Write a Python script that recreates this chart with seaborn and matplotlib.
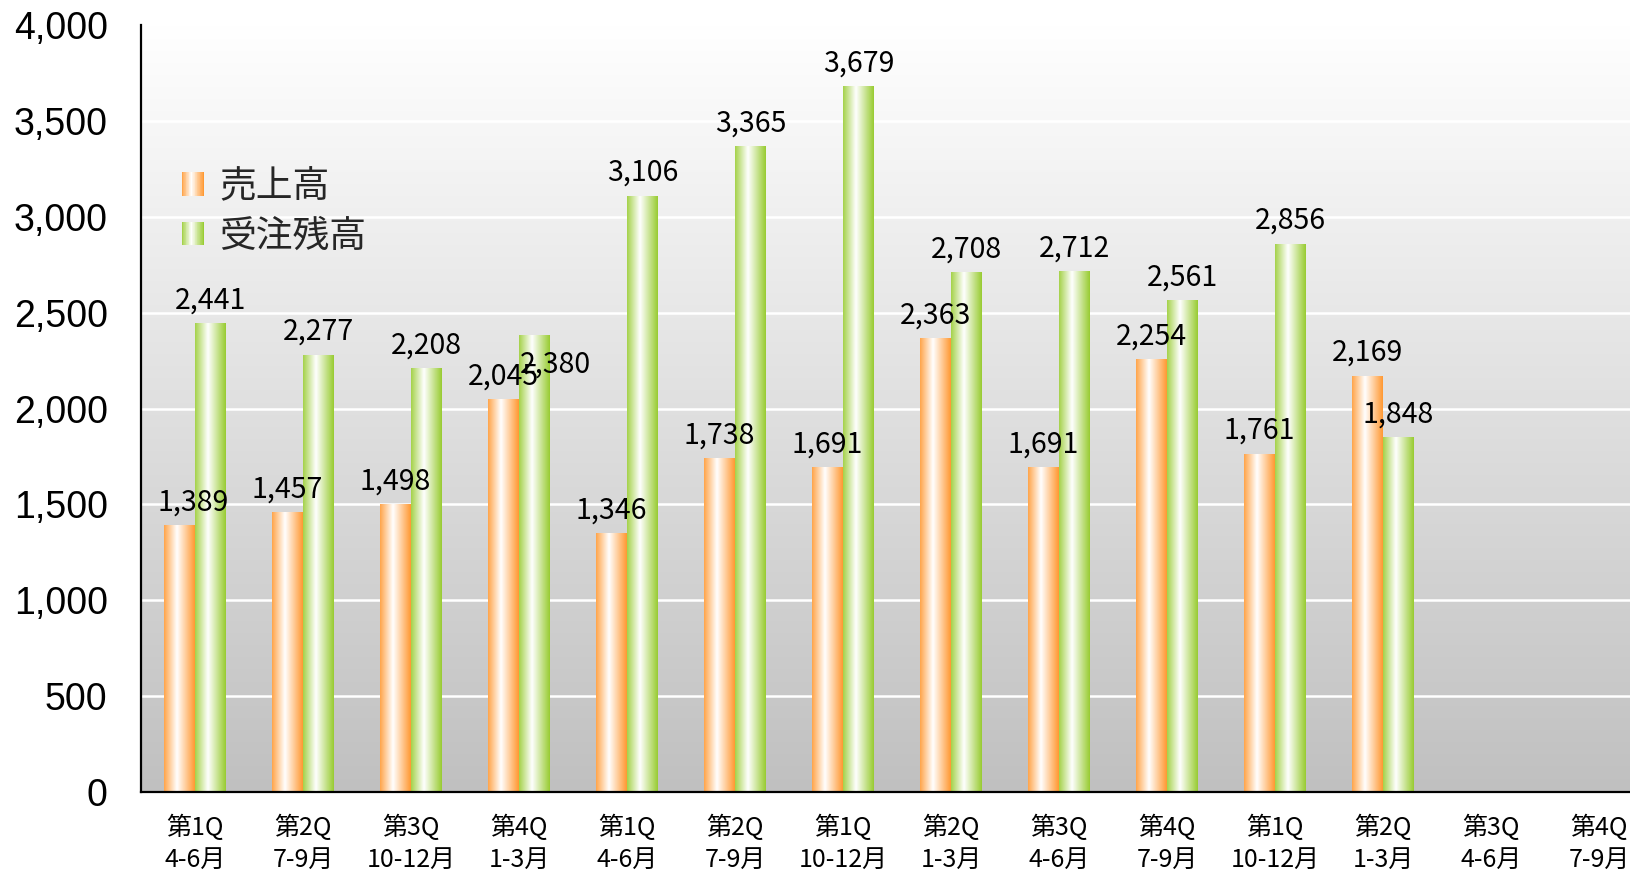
import numpy as np
import pandas as pd
import matplotlib
matplotlib.use("Agg")
import matplotlib.pyplot as plt
import seaborn as sns
from matplotlib.colors import to_rgb
from matplotlib.legend_handler import HandlerPatch
from matplotlib.patches import Rectangle, Patch

# ---------------- data ----------------
quarters = ["第1Q", "第2Q", "第3Q", "第4Q", "第1Q", "第2Q", "第1Q",
            "第2Q", "第3Q", "第4Q", "第1Q", "第2Q", "第3Q", "第4Q"]
months = ["4-6月", "7-9月", "10-12月", "1-3月", "4-6月", "7-9月", "10-12月",
          "1-3月", "4-6月", "7-9月", "10-12月", "1-3月", "4-6月", "7-9月"]
sales = [1389, 1457, 1498, 2045, 1346, 1738, 1691, 2363, 1691, 2254, 1761, 2169]
backlog = [2441, 2277, 2208, 2380, 3106, 3365, 3679, 2708, 2712, 2561, 2856, 1848]
series_names = ["売上高", "受注残高"]
y_ticks = [0, 500, 1000, 1500, 2000, 2500, 3000, 3500, 4000]
y_tick_labels = ["0", "500", "1,000", "1,500", "2,000", "2,500", "3,000", "3,500", "4,000"]

ORANGE = "#FF9933"
GREEN = "#99CC33"
colors = {series_names[0]: ORANGE, series_names[1]: GREEN}

# label nudges (series index, bar index) -> (dx, dy) in points
label_nudges = {(0, 0): (10, 0), (1, 3): (15, -38)}

rows = []
for i, v in enumerate(sales):
    rows.append({"period": i, "series": series_names[0], "value": v})
for i, v in enumerate(backlog):
    rows.append({"period": i, "series": series_names[1], "value": v})
df = pd.DataFrame(rows)

sns.set_style("white")
plt.rcParams["font.family"] = ["Noto Sans CJK JP", "DejaVu Sans"]

W, H = 1630, 874
fig = plt.figure(figsize=(W / 100, H / 100), dpi=100)
fig.patch.set_facecolor("white")
ax = fig.add_axes([141 / W, 82 / H, 1512 / W, 767 / H])
ax.set_facecolor("none")

n_cat = len(quarters)
sns.barplot(data=df, x="period", y="value", hue="series",
            order=list(range(n_cat)), hue_order=series_names,
            palette=colors, width=2 / 3.5, gap=0, errorbar=None,
            legend=False, saturation=1, ax=ax)


def grad_colors(color, n):
    c = np.array(to_rgb(color))
    w = np.ones(3)
    left = c * 0.88 + w * 0.12
    t = np.linspace(0, 1, n)
    out = []
    for tt in t:
        if tt < 0.42:
            f = tt / 0.42
            out.append(left * (1 - f) + w * f)
        else:
            f = (tt - 0.42) / 0.58
            out.append(w * (1 - f) + c * f)
    return np.array(out)


# gradient fills of bars
for cont, name in zip(ax.containers, series_names):
    g = grad_colors(colors[name], 64)[np.newaxis, :, :]
    for p in cont:
        x0, y0, w, h = p.get_x(), p.get_y(), p.get_width(), p.get_height()
        if not np.isfinite(h):
            continue
        ax.imshow(g, extent=[x0, x0 + w, y0, y0 + h], aspect="auto",
                  interpolation="bilinear", zorder=2)
        p.set_facecolor("none")
        p.set_edgecolor("none")

# background gradient
bg = np.linspace(1.0, 0.753, 256)
bg_img = np.stack([bg, bg, bg], axis=-1)[:, np.newaxis, :]
ax.imshow(bg_img, extent=[0, 1, 0, 1], transform=ax.transAxes,
          aspect="auto", zorder=0, interpolation="bilinear")

# data labels
for si, cont in enumerate(ax.containers):
    labels = [f"{p.get_height():,.0f}" for p in cont]
    texts = ax.bar_label(cont, labels=labels, padding=6, fontsize=20.5,
                         fontfamily="Noto Sans CJK JP", zorder=6, color="black")
    for bi, t in enumerate(texts):
        if (si, bi) in label_nudges:
            dx, dy = label_nudges[(si, bi)]
            ox, oy = t.xyann
            t.xyann = (ox + dx, oy + dy)

ax.set_xlim(-0.5, n_cat - 0.5)
ax.set_ylim(0, 4000)

# grid
ax.set_axisbelow(True)
ax.yaxis.grid(True, color="white", linewidth=1.8)
ax.xaxis.grid(False)

# spines
for s in ["top", "right"]:
    ax.spines[s].set_visible(False)
for s in ["left", "bottom"]:
    ax.spines[s].set_color("black")
    ax.spines[s].set_linewidth(1.6)

ax.set_yticks(y_ticks)
ax.set_yticklabels(y_tick_labels)
for lab in ax.get_yticklabels():
    lab.set_fontfamily("Liberation Sans")
    lab.set_fontsize(27)
ax.tick_params(axis="y", direction="in", length=7.5, width=1.5, pad=24,
               colors="black")

ax.set_xticks(range(n_cat))
ax.set_xticklabels([f"{q}\n{m}" for q, m in zip(quarters, months)],
                   fontsize=18, linespacing=1.32)
ax.set_xticks(np.arange(0.5, n_cat, 1.0), minor=True)
ax.tick_params(axis="x", which="major", length=0, pad=16, colors="black")
ax.tick_params(axis="x", which="minor", direction="in", length=7.5, width=1.5)
ax.set_xlabel("")
ax.set_ylabel("")


class GradientHandler(HandlerPatch):
    def __init__(self, color):
        super().__init__()
        self.color = color

    def create_artists(self, legend, orig_handle, xdescent, ydescent,
                       width, height, fontsize, trans):
        n = 30
        cols = grad_colors(self.color, n)
        arts = []
        for i in range(n):
            r = Rectangle((-xdescent + width * i / n, -ydescent),
                          width / n * 1.08, height, facecolor=cols[i],
                          edgecolor="none", transform=trans)
            arts.append(r)
        return arts


handles = [Patch(facecolor=colors[n], label=n) for n in series_names]
hmap = {h: GradientHandler(colors[n]) for h, n in zip(handles, series_names)}
ax.legend(handles=handles, handler_map=hmap, loc="upper left",
          bbox_to_anchor=(182 / W, 1 - 167 / H), bbox_transform=fig.transFigure,
          frameon=False, borderpad=0, borderaxespad=0,
          handlelength=0.6, handleheight=0.6, handletextpad=0.42,
          labelspacing=0.28,
          prop={"family": "Noto Sans CJK JP", "size": 26.5})

fig.savefig("out.png", dpi=100)
